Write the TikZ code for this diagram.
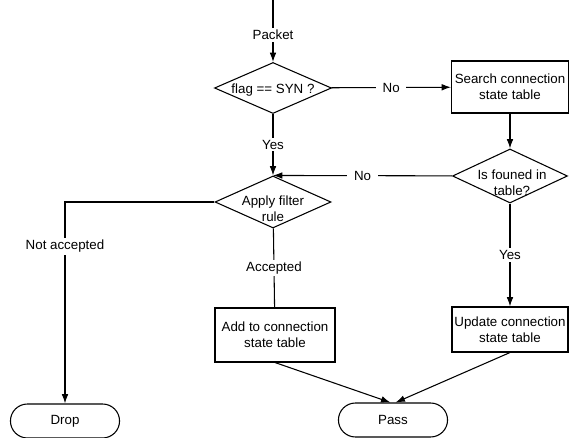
\documentclass[tikz,border=0pt]{standalone}
\usepackage{fontspec}
\setmainfont{Liberation Sans}
\usetikzlibrary{shapes.geometric, shapes.misc, arrows.meta}

\begin{document}
\begin{tikzpicture}[x=0.75pt, y=-0.75pt,
        every node/.style={font=\fontsize{10}{12}\selectfont},
        cond/.style={draw, thick, diamond, inner sep=0pt},
        proc/.style={draw, thick, rectangle, align=center, inner sep=1pt},
        term/.style={draw, thick, rounded rectangle, minimum width=88.5pt, minimum height=25.5pt},
        tag/.style={fill=white, inner xsep=5pt, inner ysep=1.5pt},
        inner/.style={align=center},
        arr/.style={-{Latex[length=7pt, width=5pt]}, thick}]
        \useasboundingbox (0, 0) rectangle (569, 438);
        \coordinate (in) at (273, 0);
        \node[cond, minimum width=87.75pt, minimum height=38.25pt,
              label={[inner, yshift=-1.5pt]center:flag == SYN ?}] (syn) at (273, 88) {};
        \node[proc, minimum width=87.75pt, minimum height=39pt] (search) at (510, 87) {Search connection\\state table};
        \node[cond, minimum width=86.25pt, minimum height=40.5pt,
              label={[inner, xshift=1.5pt, yshift=-5pt]center:Is founed in\\table?}] (found) at (510, 176) {};
        \node[cond, minimum width=87pt, minimum height=39pt,
              label={[inner, yshift=-5pt]center:Apply filter\\rule}] (filter) at (273, 202) {};
        \node[proc, minimum width=90pt, minimum height=40.5pt] (add) at (275, 335) {Add to connection\\state table};
        \node[proc, minimum width=87pt, minimum height=33.75pt] (update) at (510, 329.5) {Update connection\\state table};
        \node[term] (drop) at (65, 421) {Drop};
        \node[term] (pass) at (393, 420) {Pass};
        \draw[arr] (in) -- node[tag, pos=0.56] {Packet} (syn);
        \draw[arr] (syn) -- node[tag] {No} (search);
        \draw[arr] (search) -- (found);
        \draw[arr] (syn) -- node[tag] {Yes} (filter);
        \draw[arr] (found) -- node[tag] {No} (filter.north);
        \draw[arr] (found) -- node[tag] {Yes} (update);
        \draw[arr] (filter) -| node[tag, pos=0.61] {Not accepted} (drop);
        \draw[thick] (filter) -- node[tag] {Accepted} (add);
        \draw[arr] (add.south) -- ([xshift=-2pt]pass.north);
        \draw[arr] (update.south) -- ([xshift=2pt]pass.north);
    \end{tikzpicture}
\end{document}
